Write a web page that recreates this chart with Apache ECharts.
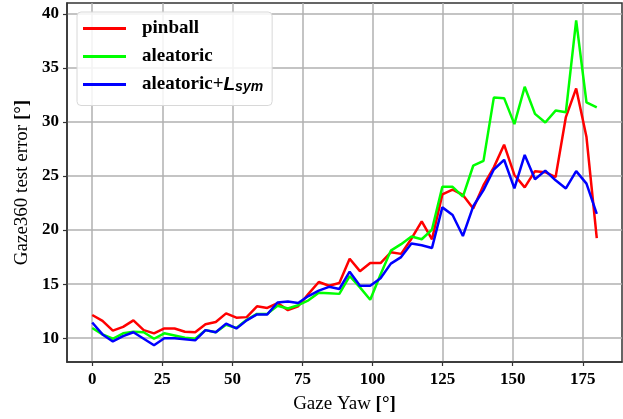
<!DOCTYPE html>
<html>
<head>
<meta charset="utf-8">
<script src="https://cdn.jsdelivr.net/npm/echarts@6/dist/echarts.min.js"></script>
<style>
  html, body { margin: 0; padding: 0; background: #fff; }
  #gazeChart { width: 623px; height: 419px; }
</style>
</head>
<body>
<div id="gazeChart"></div>
<script>
// 横轴：Gaze Yaw（°）
var yawValues = [0, 3.67, 7.35, 11.02, 14.69, 18.37, 22.04, 25.71, 29.39, 33.06,
  36.73, 40.41, 44.08, 47.76, 51.43, 55.10, 58.78, 62.45, 66.12, 69.80,
  73.47, 77.14, 80.82, 84.49, 88.16, 91.84, 95.51, 99.18, 102.86, 106.53,
  110.20, 113.88, 117.55, 121.22, 124.90, 128.57, 132.24, 135.92, 139.59, 143.27,
  146.94, 150.61, 154.29, 157.96, 161.63, 165.31, 168.98, 172.65, 176.33, 180];

var pinballErr = [12.15, 11.6, 10.7, 11.05, 11.65, 10.75, 10.45, 10.9, 10.9, 10.6,
  10.55, 11.3, 11.5, 12.3, 11.9, 11.95, 12.95, 12.8, 13.25, 12.6,
  12.95, 14.1, 15.2, 14.85, 15.1, 17.35, 16.2, 16.95, 16.95, 17.95,
  17.8, 19.2, 20.8, 19.15, 23.3, 23.75, 23.25, 22.0, 24.15, 25.8,
  27.9, 25.1, 23.95, 25.45, 25.35, 24.9, 30.45, 33.1, 28.6, 19.25];

var aleatoricErr = [10.95, 10.35, 9.95, 10.45, 10.6, 10.55, 9.95, 10.45, 10.25, 10.05,
  9.95, 10.75, 10.55, 11.25, 10.95, 11.7, 12.25, 12.25, 13.0, 12.75,
  13.05, 13.5, 14.2, 14.15, 14.1, 15.75, 14.7, 13.55, 15.9, 18.1,
  18.7, 19.4, 19.15, 20.05, 24.0, 24.0, 23.1, 25.95, 26.4, 32.25,
  32.2, 29.8, 33.25, 30.75, 29.95, 31.05, 30.9, 39.4, 31.8, 31.35];

var symErr = [11.45, 10.35, 9.7, 10.2, 10.55, 9.95, 9.35, 10.0, 10.0, 9.9,
  9.8, 10.75, 10.55, 11.35, 10.9, 11.65, 12.2, 12.2, 13.3, 13.4,
  13.25, 13.9, 14.4, 14.75, 14.55, 16.15, 14.85, 14.85, 15.55, 16.9,
  17.5, 18.75, 18.6, 18.35, 22.1, 21.4, 19.45, 22.2, 23.7, 25.6,
  26.5, 23.85, 26.95, 24.7, 25.5, 24.6, 23.85, 25.45, 24.3, 21.5];

var xTicks = [0, 25, 50, 75, 100, 125, 150, 175];
var yTicks = [10, 15, 20, 25, 30, 35, 40];

function pairUp(ys) {
  return yawValues.map(function (x, i) { return [x, ys[i]]; });
}

var serifFont = '"Liberation Serif", "DejaVu Serif", serif';
var sansFont = '"Liberation Sans", "DejaVu Sans", sans-serif';

var gazeChart = echarts.init(document.getElementById('gazeChart'));
var option = {
  animation: false,
  grid: {
    left: 67,
    right: 1,
    top: 3,
    bottom: 53,
    show: true,
    borderColor: '#333',
    borderWidth: 1.5,
    backgroundColor: 'transparent'
  },
  legend: {
    left: 77,
    top: 12,
    orient: 'vertical',
    itemWidth: 43,
    itemHeight: 14,
    itemGap: 9,
    padding: [7, 9, 11, 6],
    backgroundColor: 'rgba(255,255,255,0.85)',
    borderColor: '#d8d8d8',
    borderWidth: 1,
    borderRadius: 4,
    icon: 'path://M0,6 L40,6 L40,9 L0,9 Z',
    data: ['pinball', 'aleatoric', 'aleatoric+Lsym'],
    formatter: function (name) {
      if (name === 'aleatoric+Lsym') return '{t|aleatoric+}{l|L}{s|sym}';
      return '{t|' + name + '}';
    },
    textStyle: {
      fontFamily: serifFont,
      fontWeight: 'bold',
      fontSize: 19,
      color: '#000',
      padding: [0, 0, 0, 11],
      rich: {
        t: { fontFamily: serifFont, fontWeight: 'bold', fontSize: 19, color: '#000' },
        l: { fontFamily: sansFont, fontWeight: 'bold', fontStyle: 'italic', fontSize: 19, color: '#000' },
        s: { fontFamily: sansFont, fontWeight: 'bold', fontStyle: 'italic', fontSize: 14, color: '#000', verticalAlign: 'bottom', padding: [6, 0, 0, 0] }
      }
    }
  },
  xAxis: {
    type: 'value',
    min: -9,
    max: 189,
    name: '{n|Gaze Yaw }{b|[°]}',
    nameLocation: 'middle',
    nameGap: 33,
    nameTextStyle: {
      rich: {
        n: { fontFamily: serifFont, fontSize: 19, color: '#000' },
        b: { fontFamily: serifFont, fontSize: 19, fontWeight: 'bold', color: '#000' }
      }
    },
    axisLine: { show: true, onZero: false, lineStyle: { color: '#333', width: 1.5 } },
    axisTick: { show: true, length: 4, customValues: xTicks, lineStyle: { color: '#333', width: 1.2 } },
    axisLabel: {
      customValues: xTicks,
      margin: 9,
      fontFamily: serifFont,
      fontWeight: 'bold',
      fontSize: 17,
      color: '#000'
    },
    splitLine: { show: true, lineStyle: { color: '#b0b0b0', width: 1.5 } }
  },
  yAxis: {
    type: 'value',
    min: 7.8,
    max: 41,
    name: '{n|Gaze360 test error }{b|[°]}',
    nameLocation: 'middle',
    nameGap: 35,
    nameTextStyle: {
      rich: {
        n: { fontFamily: serifFont, fontSize: 19, color: '#000' },
        b: { fontFamily: serifFont, fontSize: 19, fontWeight: 'bold', color: '#000' }
      }
    },
    axisLine: { show: true, onZero: false, lineStyle: { color: '#333', width: 1.5 } },
    axisTick: { show: true, length: 4, customValues: yTicks, lineStyle: { color: '#333', width: 1.2 } },
    axisLabel: {
      customValues: yTicks,
      margin: 8,
      fontFamily: serifFont,
      fontWeight: 'bold',
      fontSize: 17,
      color: '#000'
    },
    splitLine: { show: true, lineStyle: { color: '#b0b0b0', width: 1.5 } }
  },
  series: [
    {
      name: 'pinball',
      type: 'line',
      data: pairUp(pinballErr),
      showSymbol: false,
      lineStyle: { color: '#ff0000', width: 2.5 },
      itemStyle: { color: '#ff0000' }
    },
    {
      name: 'aleatoric',
      type: 'line',
      data: pairUp(aleatoricErr),
      showSymbol: false,
      lineStyle: { color: '#00ff00', width: 2.5 },
      itemStyle: { color: '#00ff00' }
    },
    {
      name: 'aleatoric+Lsym',
      type: 'line',
      data: pairUp(symErr),
      showSymbol: false,
      lineStyle: { color: '#0000ff', width: 2.5 },
      itemStyle: { color: '#0000ff' }
    }
  ]
};
gazeChart.setOption(option, true);
</script>
</body>
</html>
